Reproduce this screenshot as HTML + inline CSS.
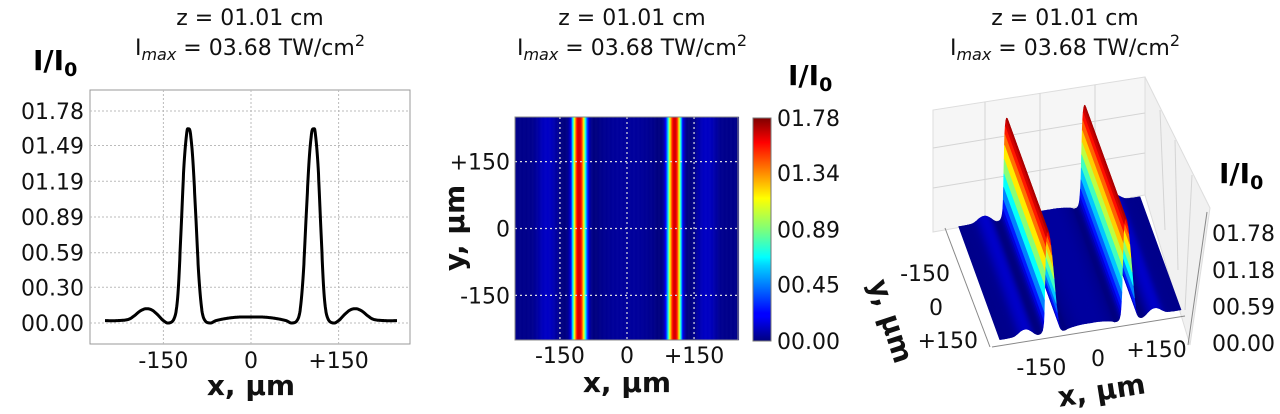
<!DOCTYPE html>
<html><head><meta charset="utf-8">
<style>
html,body{margin:0;padding:0;background:#fff;}
svg{display:block;font-family:"DejaVu Sans","Liberation Sans",sans-serif;}
</style></head>
<body>
<svg id="fig" width="1280" height="414" viewBox="0 0 1280 414" xmlns="http://www.w3.org/2000/svg">
<defs>
<linearGradient id="jetbar" x1="0" y1="1" x2="0" y2="0">
<stop offset="0" stop-color="#00007f"/><stop offset="0.11" stop-color="#0000ff"/><stop offset="0.125" stop-color="#0000ff"/>
<stop offset="0.34" stop-color="#00d4ff"/><stop offset="0.375" stop-color="#00ffff"/><stop offset="0.5" stop-color="#7dff7a"/>
<stop offset="0.64" stop-color="#ffff00"/><stop offset="0.89" stop-color="#ff0000"/><stop offset="1" stop-color="#7f0000"/>
</linearGradient>
</defs>
<g font-size="22" text-anchor="middle" fill="#111">
<text x="250" y="25">z = 01.01 cm</text>
<text x="250" y="55">I<tspan font-style="italic" font-size="16" dy="5">max</tspan><tspan dy="-5"> = 03.68 TW/cm</tspan><tspan font-size="16" dy="-9">2</tspan></text>
</g>
<g font-size="22" text-anchor="middle" fill="#111">
<text x="632" y="25">z = 01.01 cm</text>
<text x="632" y="55">I<tspan font-style="italic" font-size="16" dy="5">max</tspan><tspan dy="-5"> = 03.68 TW/cm</tspan><tspan font-size="16" dy="-9">2</tspan></text>
</g>
<g font-size="22" text-anchor="middle" fill="#111">
<text x="1065" y="25">z = 01.01 cm</text>
<text x="1065" y="55">I<tspan font-style="italic" font-size="16" dy="5">max</tspan><tspan dy="-5"> = 03.68 TW/cm</tspan><tspan font-size="16" dy="-9">2</tspan></text>
</g>
<text x="33" y="70" font-size="28" font-weight="bold">I/I<tspan font-size="19" dy="6">0</tspan></text>
<text x="788" y="85" font-size="28" font-weight="bold">I/I<tspan font-size="19" dy="6">0</tspan></text>
<text x="1219" y="183" font-size="28" font-weight="bold">I/I<tspan font-size="19" dy="6">0</tspan></text>

<g id="p1"></g>
<g id="p2"></g>
<g id="p3"></g>
</svg>
<script>
// profile data (x in µm, intensity I/I0)
const xsUm = [-250,-230,-210,-200,-190,-180,-170,-160,-150,-140,-130,-125,-120,-115,-110,-107,-104,-100,-95,-90,-85,-80,-70,-60,-40,-20,0,
              20,40,60,70,80,85,90,95,100,104,107,110,115,120,125,130,140,150,160,170,180,190,200,210,230,250];
const intensity = [0.02,0.02,0.03,0.06,0.10,0.12,0.11,0.07,0.02,0.0,0.06,0.25,0.75,1.3,1.6,1.63,1.6,1.4,0.95,0.45,0.14,0.03,0.0,0.02,0.04,0.05,0.05,
              0.05,0.04,0.02,0.0,0.03,0.14,0.45,0.95,1.4,1.6,1.63,1.6,1.3,0.75,0.25,0.06,0.0,0.02,0.07,0.11,0.12,0.10,0.06,0.03,0.02,0.02];
const yTicks = [0.00,0.30,0.59,0.89,1.19,1.49,1.78];
const yTickLabels = ["00.00","00.30","00.59","00.89","01.19","01.49","01.78"];
const xTicks = [-150,0,150];
const xTickLabels = ["-150","0","+150"];
const cbTicks = [0,0.45,0.89,1.34,1.78];
const cbTickLabels = ["00.00","00.45","00.89","01.34","01.78"];
const zTicks = [0,0.59,1.18,1.78];
const zTickLabels = ["00.00","00.59","01.18","01.78"];
const vmax = 1.78;

const NS="http://www.w3.org/2000/svg";
function mk(tag,attrs,parent){const e=document.createElementNS(NS,tag);for(const k in attrs)e.setAttribute(k,attrs[k]);parent.appendChild(e);return e;}
function interp(x){
 const n=xsUm.length;
 if(x<=xsUm[0])return intensity[0]; if(x>=xsUm[n-1])return intensity[n-1];
 let i=0; while(i<n-2&&x>xsUm[i+1])i++;
 const x0=xsUm[i],x1=xsUm[i+1],y0=intensity[i],y1=intensity[i+1];
 const h=x1-x0,t=(x-x0)/h;
 const m=k=>{ if(k<=0||k>=n-1)return 0; return (intensity[k+1]-intensity[k-1])/(xsUm[k+1]-xsUm[k-1]); };
 const m0=m(i)*h,m1=m(i+1)*h;
 const t2=t*t,t3=t2*t;
 let v=(2*t3-3*t2+1)*y0+(t3-2*t2+t)*m0+(-2*t3+3*t2)*y1+(t3-t2)*m1;
 return Math.max(0,v);
}
function jet(v){v=Math.max(0,Math.min(1,v));
 const r=Math.max(0,Math.min(1,1.5-Math.abs(4*v-3))),g=Math.max(0,Math.min(1,1.5-Math.abs(4*v-2))),b=Math.max(0,Math.min(1,1.5-Math.abs(4*v-1)));
 return `rgb(${Math.round(r*255)},${Math.round(g*255)},${Math.round(b*255)})`;}

// ---- Panel 1: line profile
(function(){
 const g=document.getElementById('p1');
 const L=90,R=410,T=90,B=344;
 const sx=x=>251+x*0.584, sy=v=>323-v*(212/1.78);
 const frame=mk('rect',{x:L,y:T,width:R-L,height:B-T,fill:'#fff',stroke:'#999','stroke-width':1},g);
 
 
 yTicks.forEach((t,i)=>{
  const gl=mk('line',{x1:L,x2:R,y1:sy(t),y2:sy(t),stroke:'#bbb','stroke-width':1,'stroke-dasharray':'2,2'},g);
  
  
  const tx=mk('text',{x:L-6,y:sy(t)+8,'font-size':22,'text-anchor':'end',fill:'#111'},g);
  tx.textContent=yTickLabels[i];
  
  
 });
 xTicks.forEach((t,i)=>{
  const gl=mk('line',{x1:sx(t),x2:sx(t),y1:T,y2:B,stroke:'#bbb','stroke-width':1,'stroke-dasharray':'2,2'},g);
  
  
  const tx=mk('text',{x:sx(t),y:B+24,'font-size':22,'text-anchor':'middle',fill:'#111'},g);
  tx.textContent=xTickLabels[i];
  
  
 });
 let d='';
 for(let x=-250;x<=250;x+=0.5){d+=(x===-250?'M':'L')+sx(x).toFixed(1)+','+sy(interp(x)).toFixed(1);}
 const p=mk('path',{d:d,fill:'none',stroke:'#000','stroke-width':3,'stroke-linejoin':'round'},g);
 
 
 const xl=mk('text',{x:251,y:395,'font-size':28,'font-weight':'bold','text-anchor':'middle',fill:'#111'},g);
 xl.textContent='x, µm';
 
 
})();

// ---- Panel 2: heatmap
(function(){
 const g=document.getElementById('p2');
 const L=515,R=738,T=117,B=340;
 const sx=x=>627+x*0.447, sy=y=>228.5-y*0.446;
 for(let x=-250;x<250;x+=1){
  const c=jet(interp(x+0.5)/vmax);
  const r=mk('rect',{x:sx(x).toFixed(2),y:T,width:0.6,height:B-T,fill:c,'stroke':c,'stroke-width':0.3},g);
  
  
 }
 xTicks.forEach((t,i)=>{
  const gl=mk('line',{x1:sx(t),x2:sx(t),y1:T,y2:B,stroke:'#ddd','stroke-width':1.2,'stroke-dasharray':'2,3'},g);
  
  
  const tx=mk('text',{x:sx(t),y:B+23,'font-size':22,'text-anchor':'middle',fill:'#111'},g);
  tx.textContent=xTickLabels[i];
  
  
 });
 const yLab=["-150","0","+150"];
 [-150,0,150].forEach((t,i)=>{
  const gl=mk('line',{x1:L,x2:R,y1:sy(t),y2:sy(t),stroke:'#ddd','stroke-width':1.2,'stroke-dasharray':'2,3'},g);
  
  
  const tx=mk('text',{x:L-5,y:sy(t)+8,'font-size':22,'text-anchor':'end',fill:'#111'},g);
  tx.textContent=yLab[i];
  
  
 });
 const fr=mk('rect',{x:L,y:T,width:R-L,height:B-T,fill:'none',stroke:'#888','stroke-width':1},g);
 
 
 const xl=mk('text',{x:627,y:392,'font-size':28,'font-weight':'bold','text-anchor':'middle',fill:'#111'},g);
 xl.textContent='x, µm';
 
 
 const yl=mk('text',{x:0,y:0,'font-size':28,'font-weight':'bold','text-anchor':'middle',fill:'#111',transform:'translate(464,228) rotate(-90)'},g);
 yl.textContent='y, µm';
 
 
 const cb=mk('rect',{x:753,y:118,width:18,height:223,fill:'url(#jetbar)',stroke:'#777','stroke-width':1},g);
 
 
 cbTicks.forEach((t,i)=>{
  const y=341-t/vmax*223;
  const tx=mk('text',{x:777,y:y+8,'font-size':22,fill:'#111'},g);
  tx.textContent=cbTickLabels[i];
  
  
 });
})();

// ---- Panel 3: 3D surface
(function(){
 const g=document.getElementById('p3');
 const O=[958,228], ex=[182,-30], ey=[41,113], ez=[-2,-62];
 const P=(u,v,z)=>[O[0]+u*ex[0]+v*ey[0]+z*ez[0], O[1]+u*ex[1]+v*ey[1]+z*ez[1]];
 const pane=mk('polygon',{points:'933,232 1145,195 1145,77 933,110',fill:'#f6f6f6',stroke:'#ddd','stroke-width':1},g);
 
 
 const pane2=mk('polygon',{points:'1145,195 1190,345 1210,208 1145,77',fill:'#f1f1f1',stroke:'#ddd','stroke-width':1},g);
 
 
 [985,1040,1095].forEach(x=>{const t=(x-933)/212;const l=mk('line',{x1:x,y1:232-t*37,x2:x,y2:110-t*33,stroke:'#d4d4d4'},g);});
 [148,188].forEach(y=>{const l=mk('line',{x1:933,y1:y,x2:1145,y2:y-35,stroke:'#d4d4d4'},g);});
 [[1160,110,1165,230],[1175,140,1178,270],[1192,175,1185,310]].forEach(a=>{const l=mk('line',{x1:a[0],y1:a[1],x2:a[2],y2:a[3],stroke:'#d4d4d4'},g);});
 for(let x=248;x>-250;x-=2){
  const u0=(x+250)/500,u1=(x+2+250)/500,z0=interp(x),z1=interp(x+2);
  const pts=[P(u0,0,z0),P(u1,0,z1),P(u1,1,z1),P(u0,1,z0)].map(p=>p[0].toFixed(1)+','+p[1].toFixed(1)).join(' ');
  const c=jet((z0+z1)/2/vmax*1.05);
  const s=mk('polygon',{points:pts,fill:c,stroke:c,'stroke-width':0.6},g);
  
  
 }
 const za=mk('line',{x1:1207,y1:212,x2:1188,y2:345,stroke:'#888'},g);
 
 
 const fa=mk('line',{x1:992,y1:347,x2:1185,y2:316,stroke:'#888'},g);
 
 
 const la=mk('line',{x1:945,y1:228,x2:990,y2:347,stroke:'#888'},g);
 
 
 zTicks.forEach((t,i)=>{
  const y=343-t/vmax*110;
  const tx=mk('text',{x:1212,y:y+8,'font-size':22,fill:'#111'},g);
  tx.textContent=zTickLabels[i];
  
  
 });
 const xOff=[[6,40],[8,40],[12,40]];
 xTicks.forEach((t,i)=>{
  const p=P((t+250)/500,1,0);
  const tx=mk('text',{x:p[0]+xOff[i][0],y:p[1]+xOff[i][1],'font-size':22,'text-anchor':'middle',fill:'#111'},g);
  tx.textContent=xTickLabels[i];
  
  
 });
 const yLab=["-150","0","+150"];
 const yEnd=[[950,281],[943,315],[978,348]];
 [-150,0,150].forEach((t,i)=>{
  const tx=mk('text',{x:yEnd[i][0],y:yEnd[i][1],'font-size':22,'text-anchor':'end',fill:'#111'},g);
  tx.textContent=yLab[i];
  
  
 });
 const xl=mk('text',{x:0,y:0,'font-size':28,'font-weight':'bold','text-anchor':'middle',fill:'#111',transform:'translate(1103,400) rotate(-9)'},g);
 xl.textContent='x, µm';
 
 
 const yl=mk('text',{x:0,y:0,'font-size':28,'font-weight':'bold','text-anchor':'middle',fill:'#111',transform:'translate(882,324) rotate(72)'},g);
 yl.textContent='y, µm';
 
 
})();
</script>
</body></html>
